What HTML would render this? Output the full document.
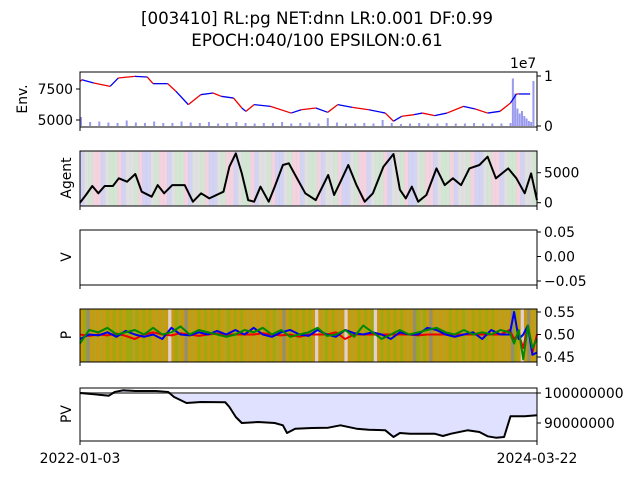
<!DOCTYPE html>
<html><head><meta charset="utf-8">
<style>
body{margin:0;background:#fff;width:640px;height:480px;overflow:hidden}
svg{font-family:"DejaVu Sans","Liberation Sans",sans-serif}
</style></head>
<body>
<svg id="c" width="640" height="480" xmlns="http://www.w3.org/2000/svg">
<text x="317" y="24" font-size="16.7" text-anchor="middle">[003410] RL:pg NET:dnn LR:0.001 DF:0.99</text>
<text x="317" y="46" font-size="16.7" text-anchor="middle">EPOCH:040/100 EPSILON:0.61</text>
</svg>
<script>
const envX=[0,0.004,0.03,0.066,0.084,0.12,0.147,0.16,0.192,0.21,0.237,0.264,0.291,0.309,0.336,0.354,0.363,0.381,0.417,0.462,0.484,0.516,0.542,0.564,0.596,0.632,0.668,0.686,0.704,0.731,0.749,0.776,0.803,0.839,0.865,0.892,0.919,0.942,0.955,0.96,0.985];
const envPrice=[8100,8250,7980,7715,8390,8520,8470,7930,7930,7310,6240,7040,7180,6910,6770,5970,5700,6240,6100,5560,5830,5970,5620,6240,6020,5830,5560,4900,5300,5430,5560,5350,5560,6100,5890,5560,5700,6370,7100,7100,7100];
const volX=[0,0.02,0.04,0.06,0.08,0.1,0.12,0.14,0.16,0.18,0.2,0.22,0.24,0.26,0.28,0.3,0.32,0.34,0.36,0.38,0.4,0.42,0.44,0.46,0.48,0.5,0.52,0.54,0.56,0.58,0.6,0.62,0.64,0.66,0.68,0.7,0.72,0.74,0.76,0.78,0.8,0.82,0.84,0.86,0.88,0.9,0.92,0.94,0.945,0.95,0.955,0.96,0.965,0.97,0.975,0.98,0.985,0.99];
const volume=[1.8,0.8,0.9,0.7,0.6,1.1,0.7,0.6,0.9,0.6,0.6,0.9,0.7,0.6,0.8,0.5,0.6,0.8,0.6,0.5,0.6,0.6,0.8,0.5,0.6,0.7,0.5,1.6,0.7,0.5,0.5,0.6,0.5,1.2,0.6,0.4,0.5,0.6,0.5,0.5,0.6,0.5,0.5,0.6,0.5,0.5,0.5,0.6,9.5,6.5,3.5,2.5,3.0,2.0,1.5,1.0,0.8,9.0];
const agentX=[0,0.013,0.027,0.04,0.054,0.072,0.085,0.103,0.121,0.135,0.157,0.17,0.184,0.202,0.229,0.247,0.265,0.283,0.314,0.327,0.341,0.354,0.368,0.381,0.395,0.413,0.426,0.444,0.457,0.471,0.493,0.516,0.543,0.556,0.57,0.587,0.605,0.623,0.641,0.664,0.686,0.7,0.713,0.726,0.74,0.758,0.78,0.798,0.816,0.834,0.852,0.874,0.892,0.91,0.937,0.955,0.973,0.987,1];
const agentVal=[0,1280,2780,1560,2780,2780,4060,3500,4780,1830,1000,2940,1560,2940,2940,170,1560,720,1830,6000,8220,4890,440,170,2670,170,2670,6280,6560,4610,1560,440,4610,1280,3500,6280,2940,170,1560,6000,8110,2170,720,2670,170,1280,5720,2940,4060,2940,5720,6280,7670,4060,5720,4060,1560,4890,440];
const pX=[0,0.02,0.04,0.06,0.08,0.1,0.12,0.14,0.16,0.18,0.2,0.22,0.24,0.26,0.28,0.3,0.32,0.34,0.36,0.38,0.4,0.42,0.44,0.46,0.48,0.5,0.52,0.54,0.56,0.58,0.6,0.62,0.64,0.66,0.68,0.7,0.72,0.74,0.76,0.78,0.8,0.82,0.84,0.86,0.88,0.9,0.92,0.94,0.95,0.96,0.97,0.98,0.99,1];
const pRed=[0.50,0.497,0.50,0.498,0.502,0.497,0.49,0.50,0.505,0.50,0.498,0.503,0.50,0.497,0.50,0.502,0.50,0.50,0.50,0.50,0.503,0.50,0.498,0.50,0.495,0.50,0.50,0.50,0.505,0.49,0.50,0.50,0.50,0.50,0.50,0.50,0.50,0.498,0.50,0.50,0.50,0.50,0.50,0.50,0.50,0.50,0.50,0.51,0.49,0.50,0.47,0.52,0.46,0.50];
const pBlue=[0.49,0.50,0.498,0.505,0.495,0.508,0.50,0.495,0.50,0.49,0.515,0.50,0.498,0.505,0.50,0.508,0.50,0.51,0.50,0.515,0.50,0.495,0.505,0.51,0.50,0.497,0.51,0.50,0.495,0.51,0.503,0.50,0.505,0.50,0.49,0.505,0.50,0.50,0.515,0.51,0.50,0.495,0.50,0.505,0.49,0.51,0.50,0.50,0.55,0.49,0.50,0.52,0.455,0.46];
const pGreen=[0.48,0.51,0.505,0.515,0.50,0.505,0.51,0.50,0.515,0.50,0.505,0.518,0.50,0.51,0.505,0.50,0.495,0.50,0.51,0.505,0.515,0.50,0.51,0.495,0.50,0.505,0.515,0.497,0.50,0.51,0.495,0.52,0.505,0.49,0.50,0.51,0.50,0.505,0.51,0.515,0.505,0.50,0.51,0.50,0.505,0.50,0.51,0.505,0.48,0.51,0.445,0.52,0.47,0.49];
const pvX=[0,0.031,0.063,0.076,0.094,0.121,0.166,0.193,0.206,0.233,0.265,0.318,0.327,0.341,0.354,0.39,0.426,0.444,0.453,0.471,0.507,0.543,0.57,0.605,0.632,0.668,0.686,0.7,0.722,0.776,0.794,0.812,0.848,0.874,0.892,0.91,0.928,0.942,0.973,1];
const pvVal=[100,99.56,99.11,100.33,100.89,100.67,100.67,100.33,98.67,96.67,97.0,96.89,95.33,92.0,90.0,90.33,90.0,89.22,86.67,88.11,88.33,88.44,89.22,88.11,87.78,87.56,85.33,86.67,86.44,86.44,85.67,86.44,87.56,87.0,85.56,85.11,85.33,92.22,92.22,92.56];
const agentColors=["#c8c8f0","#f0c8d8","#c8e0c8","#d8d8d8"];
const pColors=["#c89a10","#a0a810","#909070","#e0d0d0","#b8a020"];

const svg=document.getElementById('c');const NS="http://www.w3.org/2000/svg";
const L=80,R=537,W=R-L;
function el(t,a,p){const e=document.createElementNS(NS,t);for(const k in a)e.setAttribute(k,a[k]);(p||svg).appendChild(e);return e;}
function X(f){return L+f*W;}
function lin(d0,d1,r0,r1){return v=>r0+(v-d0)/(d1-d0)*(r1-r0);}
function txt(x,y,s,opt,name){const t=el('text',Object.assign({x:x,y:y,'font-size':13.9},opt||{}));t.textContent=s;return t;}
function frame(top,bot,name){const r=el('rect',{x:L,y:top,width:W,height:bot-top,fill:'none',stroke:'#000','stroke-width':1});el('line',{x1:L,y1:bot,x2:L,y2:bot+4,stroke:'#000'});el('line',{x1:R,y1:bot,x2:R,y2:bot+4,stroke:'#000'});}
function rtick(y,s,name){el('line',{x1:R,y1:y,x2:R+4,y2:y,stroke:'#000'});txt(R+7,y+5,s,{},name);}
function ylabel(x,y,s,name){txt(x,y,s,{transform:`rotate(-90 ${x} ${y})`,'text-anchor':'middle'},name);}
function line(xs,ys,fx,fy,col,w,name){const d=xs.map((v,i)=>(i?'L':'M')+fx(v).toFixed(1)+','+fy(ys[i]).toFixed(1)).join('');const p=el('path',{d:d,fill:'none',stroke:col,'stroke-width':w,'stroke-linejoin':'round'});return p;}

// Env panel
const eT=72,eB=127;const yP=lin(5000,7500,120,89);const yV=lin(0,10,126,76);
volX.forEach((f,i)=>{const b=el('rect',{x:X(f),y:yV(volume[i]),width:2,height:126-yV(volume[i]),fill:'#9999ee'});});
for(let i=1;i<envX.length;i++){const s=el('line',{x1:X(envX[i-1]),y1:yP(envPrice[i-1]),x2:X(envX[i]),y2:yP(envPrice[i]),stroke:(i%2?'#e00':'#00e'),'stroke-width':1.3});}
frame(eT,eB,'env-axes');
[[5000,'5000'],[7500,'7500']].forEach(([v,s])=>{el('line',{x1:L-4,y1:yP(v),x2:L,y2:yP(v),stroke:'#000'});txt(L-7,yP(v)+5,s,{'text-anchor':'end'},'env-tick-'+s);});
rtick(yV(0),'0','vol-tick-0');rtick(yV(10),'1','vol-tick-1');
txt(510,68,'1e7',{},'vol-offset');
ylabel(27,99,'Env.','env-y-label');

// Agent panel
const aT=151,aB=206;const yA=lin(0,5000,202.7,172.7);
const n=110;for(let i=0;i<n;i++){const r=el('rect',{x:X(i/n),y:aT,width:W/n+0.5,height:aB-aT,fill:agentColors[(i*7+(i>>2))%4],opacity:0.8});}
line(agentX,agentVal,X,yA,'#000',2,'agent-line');
frame(aT,aB,'agent-axes');rtick(yA(0),'0','agent-tick-0');rtick(yA(5000),'5000','agent-tick-5000');
ylabel(71,178,'Agent','agent-y-label');

// V panel
const vT=230,vB=285;const yVv=lin(-0.05,0.05,281,232);
frame(vT,vB,'v-axes');rtick(yVv(0.05),'0.05','v-tick-0.05');rtick(yVv(0),'0.00','v-tick-0');rtick(yVv(-0.05),'−0.05','v-tick-neg0.05');
ylabel(71,257,'V','v-y-label');

// P panel
const pT=309,pB=362;const yPp=lin(0.45,0.55,357,312);
const m=140;for(let i=0;i<m;i++){const c=((i*5+(i>>3))%11)<5?0:(((i*3)%7)<4?1:((i%9)==0?3:((i%5)==2?2:4)));const r=el('rect',{x:X(i/m),y:pT,width:W/m+0.5,height:pB-pT,fill:pColors[c]});}
line(pX,pRed,X,yPp,'#e00',2,'p-red-line');line(pX,pBlue,X,yPp,'#00e',2,'p-blue-line');line(pX,pGreen,X,yPp,'#080',2,'p-green-line');
frame(pT,pB,'p-axes');rtick(yPp(0.55),'0.55','p-tick-0.55');rtick(yPp(0.5),'0.50','p-tick-0.50');rtick(yPp(0.45),'0.45','p-tick-0.45');
ylabel(71,335,'P','p-y-label');

// PV panel
const vvT=388,vvB=441;const yPV=lin(90,100,423,393);
let fd='M'+X(0)+','+yPV(100);pvX.forEach((f,i)=>fd+='L'+X(f).toFixed(1)+','+yPV(pvVal[i]).toFixed(1));fd+='L'+X(1)+','+yPV(100)+'Z';
const fa=el('path',{d:fd,fill:'#e0e0ff',stroke:'none'});
const bl=el('line',{x1:L,y1:yPV(100),x2:R,y2:yPV(100),stroke:'#808080','stroke-width':2});
line(pvX,pvVal,X,yPV,'#000',2,'pv-line');
frame(vvT,vvB,'pv-axes');rtick(yPV(100),'100000000','pv-tick-100m');rtick(yPV(90),'90000000','pv-tick-90m');
ylabel(71,414,'PV','pv-y-label');
txt(L,463,'2022-01-03',{'text-anchor':'middle'},'x-tick-start');txt(R,463,'2024-03-22',{'text-anchor':'middle'},'x-tick-end');
</script>
</body></html>
